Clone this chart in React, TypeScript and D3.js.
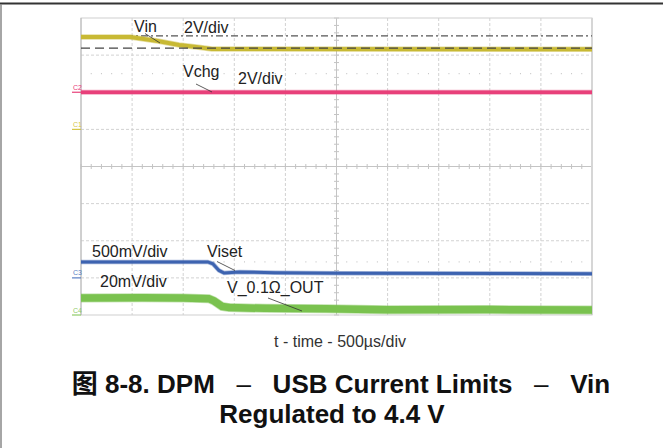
import * as d3 from 'd3';
import React from 'react';

const width = 663;
const height = 448;
const plot = { left: 81, right: 592, top: 18, bottom: 315 };

// 10 div x 500 µs, 8 vertical div
const timeSpan = [0, 5000];
const xDivs = 10;
const yDivs = 8;

// C1 - Vin, 2 V/div, ground at div 5
const vinTime = [0, 480, 750, 960, 1150, 1280, 5000];
const vinVolts = [4.98, 4.97, 4.76, 4.55, 4.42, 4.33, 4.32];
const vinRefHigh = 5.04;
const vinRefLow = 4.38;

// C2 - Vchg, 2 V/div, ground at div 6
const vchgTime = [0, 5000];
const vchgVolts = [0.0, 0.0];

// C3 - Viset, 500 mV/div, ground at div 1
const visetTime = [0, 1240, 1290, 1350, 1400, 1550, 1900, 2550, 5000];
const visetVolts = [0.215, 0.215, 0.19, 0.1, 0.065, 0.078, 0.07, 0.063, 0.055];

// C4 - V_0.1Ω_OUT, 20 mV/div, ground at div 0
const vsenseTime = [0, 600, 1000, 1250, 1300, 1380, 1450, 1800, 2400, 3000, 4000, 5000];
const vsenseMilli = [9.2, 9.3, 9.1, 8.8, 7.6, 4.6, 4.0, 3.6, 3.3, 2.8, 2.9, 2.7];

const channels = [
	{ id: 'C1', offset: 5, perDiv: 2, time: vinTime, values: vinVolts, color: '#c8b934', marker: '#d4c64a', w: 4 },
	{ id: 'C2', offset: 6, perDiv: 2, time: vchgTime, values: vchgVolts, color: '#e8407a', marker: '#e8407a', w: 3.5 },
	{ id: 'C3', offset: 1, perDiv: 0.5, time: visetTime, values: visetVolts, color: '#3d63b0', marker: '#5a7fc4', w: 3 },
	{ id: 'C4', offset: 0, perDiv: 20, time: vsenseTime, values: vsenseMilli, color: '#7ac24f', marker: '#8fcb6a', w: 7.5 },
];

const x = d3.scaleLinear().domain(timeSpan).range([plot.left, plot.right]);
const y = d3.scaleLinear().domain([0, yDivs]).range([plot.bottom, plot.top]);
const xDiv = d3.scaleLinear().domain([0, xDivs]).range([plot.left, plot.right]);

const font = "'Liberation Sans', Arial, 'Noto Sans CJK SC', sans-serif";
const gap = '\u00a0\u00a0\u00a0';

const Grid = () => {
	const cx = xDiv(xDivs / 2);
	const cy = y(yDivs / 2);
	const minorX = d3.range(0, xDivs * 5 + 1).map(i => xDiv(i / 5));
	const minorY = d3.range(0, yDivs * 5 + 1).map(i => y(i / 5));
	const dotRows = [6.5, 1.43];
	return (
		<g>
			{d3.range(1, xDivs).filter(i => i !== xDivs / 2).map(i => (
				<line key={'v' + i} x1={xDiv(i)} x2={xDiv(i)} y1={plot.top} y2={plot.bottom}
					stroke="#d2d2d2" strokeDasharray="3,2" />
			))}
			{d3.range(1, yDivs).filter(i => i !== yDivs / 2).map(i => (
				<line key={'h' + i} x1={plot.left} x2={plot.right} y1={y(i)} y2={y(i)}
					stroke="#d2d2d2" strokeDasharray="3,2" />
			))}
			<line x1={cx} x2={cx} y1={plot.top} y2={plot.bottom} stroke="#c4c4c4" />
			<line x1={plot.left} x2={plot.right} y1={cy} y2={cy} stroke="#c4c4c4" />
			{minorX.map((px, i) => (
				<line key={'tx' + i} x1={px} x2={px} y1={cy - 2.5} y2={cy + 2.5} stroke="#c4c4c4" />
			))}
			{minorY.map((py, i) => (
				<line key={'ty' + i} x1={cx - 2.5} x2={cx + 2.5} y1={py} y2={py} stroke="#c4c4c4" />
			))}
			{dotRows.map(r =>
				minorX.filter((_, i) => i % 5 !== 0).map((px, i) => (
					<rect key={r + '-' + i} x={px - 0.5} y={y(r) - 0.5} width={1} height={1} fill="#bbb" />
				))
			)}
			<rect x={plot.left} y={plot.top} width={plot.right - plot.left} height={plot.bottom - plot.top}
				fill="none" stroke="#cfcfcf" />
			<line x1={plot.left} x2={plot.left} y1={plot.top} y2={plot.bottom} stroke="#b8b8b8" />
			<line x1={plot.right} x2={plot.right} y1={plot.top} y2={plot.bottom} stroke="#d6d6d6" strokeWidth={2} />
		</g>
	);
};

const Traces = () => (
	<g>
		{channels.map(ch => {
			const line = d3.line<number>()
				.x((_, i) => x(ch.time[i]))
				.y(v => y(ch.offset + v / ch.perDiv));
			const d = line(ch.values) || '';
			return (
				<g key={ch.id}>
					<path d={d} fill="none" stroke={ch.color} strokeOpacity={0.45} strokeWidth={ch.w + 1.5} />
					<path d={d} fill="none" stroke={ch.color} strokeWidth={ch.w} />
				</g>
			);
		})}
	</g>
);

const Markers = () => (
	<g>
		{channels.map(ch => (
			<g key={ch.id}>
				<text x={73} y={y(ch.offset) - 2.5} fontSize={7} fill={ch.marker} fontFamily={font}>{ch.id}</text>
				<line x1={72} x2={81} y1={y(ch.offset)} y2={y(ch.offset)} stroke={ch.marker} strokeWidth={1.2} />
			</g>
		))}
	</g>
);

const vinY = (v: number) => y(channels[0].offset + v / channels[0].perDiv);

const App = () => {
	const label = { fontFamily: font, fontSize: 16, fill: '#222' };
	const lead = { stroke: '#333', strokeWidth: 0.8 };
	return (
		<svg width={width} height={height} style={{ position: 'fixed', left: 0, top: 0, background: '#fff' }}>
			<line x1={0} x2={width} y1={3.5} y2={3.5} stroke="#333" strokeWidth={2} />
			<line x1={1} x2={1} y1={4} y2={height} stroke="#888" strokeWidth={1.5} />
			<Grid />
			<line x1={plot.left} x2={plot.right} y1={vinY(vinRefHigh)} y2={vinY(vinRefHigh)}
				stroke="#555" strokeWidth={1.2} strokeDasharray="7,3,2,3" />
			<Traces />
			<line x1={plot.left} x2={plot.right} y1={vinY(vinRefLow)} y2={vinY(vinRefLow)}
				stroke="#444" strokeWidth={1.2} strokeDasharray="9,5" />
			<Markers />

			<text x={134} y={31.5} {...label}>Vin</text>
			<text x={184} y={33} {...label}>2V/div</text>
			<line x1={145} y1={33.5} x2={160} y2={43} {...lead} />
			<text x={183} y={77} {...label}>Vchg</text>
			<text x={238} y={83.5} {...label}>2V/div</text>
			<line x1={196} y1={84} x2={212} y2={92} {...lead} />

			<text x={92} y={257} {...label}>500mV/div</text>
			<text x={207} y={257} {...label}>Viset</text>
			<line x1={217} y1={261.5} x2={235} y2={270.5} {...lead} />
			<text x={100} y={287} {...label}>20mV/div</text>
			<text x={227} y={293} {...label}>V_0.1Ω_OUT</text>
			<line x1={268} y1={298} x2={302} y2={311} {...lead} />

			<text x={340} y={347} textAnchor="middle" fontFamily={font} fontSize={16} fill="#333">
				t - time - 500µs/div
			</text>
			<text x={341} y={393} textAnchor="middle" fontFamily={font} fontSize={26} fontWeight="bold" fill="#111">
				{'图 8-8. DPM' + gap}<tspan fontWeight="normal">–</tspan>{gap + 'USB Current Limits' + gap}
				<tspan fontWeight="normal">–</tspan>{gap + 'Vin'}
			</text>
			<text x={332} y={423} textAnchor="middle" fontFamily={font} fontSize={26} fontWeight="bold" fill="#111">
				Regulated to 4.4 V
			</text>
		</svg>
	);
};

export default App;
